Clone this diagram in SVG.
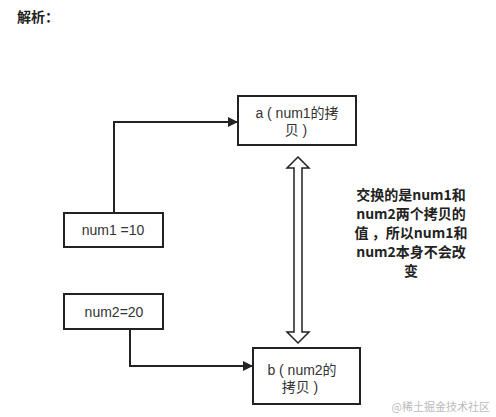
<svg xmlns="http://www.w3.org/2000/svg" width="496" height="417" viewBox="0 0 496 417">
<style>
.box{fill:#fff;stroke:#222;stroke-width:2}
.t{font-family:"Liberation Sans","Noto Sans CJK SC",sans-serif;font-size:14px;fill:#333;text-anchor:middle}
.line{fill:none;stroke:#222;stroke-width:2}
.b{font-family:"Noto Sans CJK SC",sans-serif;font-size:14px;font-weight:bold;fill:#222}
</style>
<defs>
<marker id="ah" markerWidth="10" markerHeight="10" refX="9" refY="5" orient="auto" markerUnits="userSpaceOnUse">
<path d="M0,0 L10,5 L0,10 z" fill="#222"/>
</marker>
</defs>
<rect width="496" height="417" fill="#fff"/>
<text class="b" x="17" y="22">解析：</text>
<g id="connectors">
<path class="line" d="M114,213 V122 H237" marker-end="url(#ah)"/>
<path class="line" d="M130,329 V366 H252" marker-end="url(#ah)"/>
<path d="M298,157 L309,168 L302,168 L302,332 L309,332 L298,343 L287,332 L294,332 L294,168 L287,168 Z" fill="#fff" stroke="#222" stroke-width="1.5" stroke-linejoin="miter"/>
</g>
<g id="a">
<rect class="box" x="238" y="96" width="118" height="49"/>
<text class="t" x="297" y="118">a ( num1的拷</text>
<text class="t" x="296" y="135">贝 )</text>
</g>
<g id="num1">
<rect class="box" x="64" y="213" width="99" height="34"/>
<text class="t" x="113" y="235">num1 =10</text>
</g>
<g id="num2">
<rect class="box" x="64" y="294" width="99" height="35"/>
<text class="t" x="114" y="317">num2=20</text>
</g>
<g id="b">
<rect class="box" x="253" y="348" width="107" height="56"/>
<text class="t" x="302" y="375">b ( num2的</text>
<text class="t" x="300" y="392">拷贝 )</text>
</g>
<g id="note">
<text class="b" text-anchor="middle"><tspan x="411" y="200">交换的是num1和</tspan><tspan x="411" y="219">num2两个拷贝的</tspan><tspan x="411" y="238">值 ，所以num1和</tspan><tspan x="411" y="257">num2本身不会改</tspan><tspan x="411" y="276">变</tspan></text>
</g>
<text x="490" y="411" font-family="Noto Sans CJK SC,sans-serif" font-size="11" fill="#bbb" text-anchor="end">@稀土掘金技术社区</text>
</svg>
